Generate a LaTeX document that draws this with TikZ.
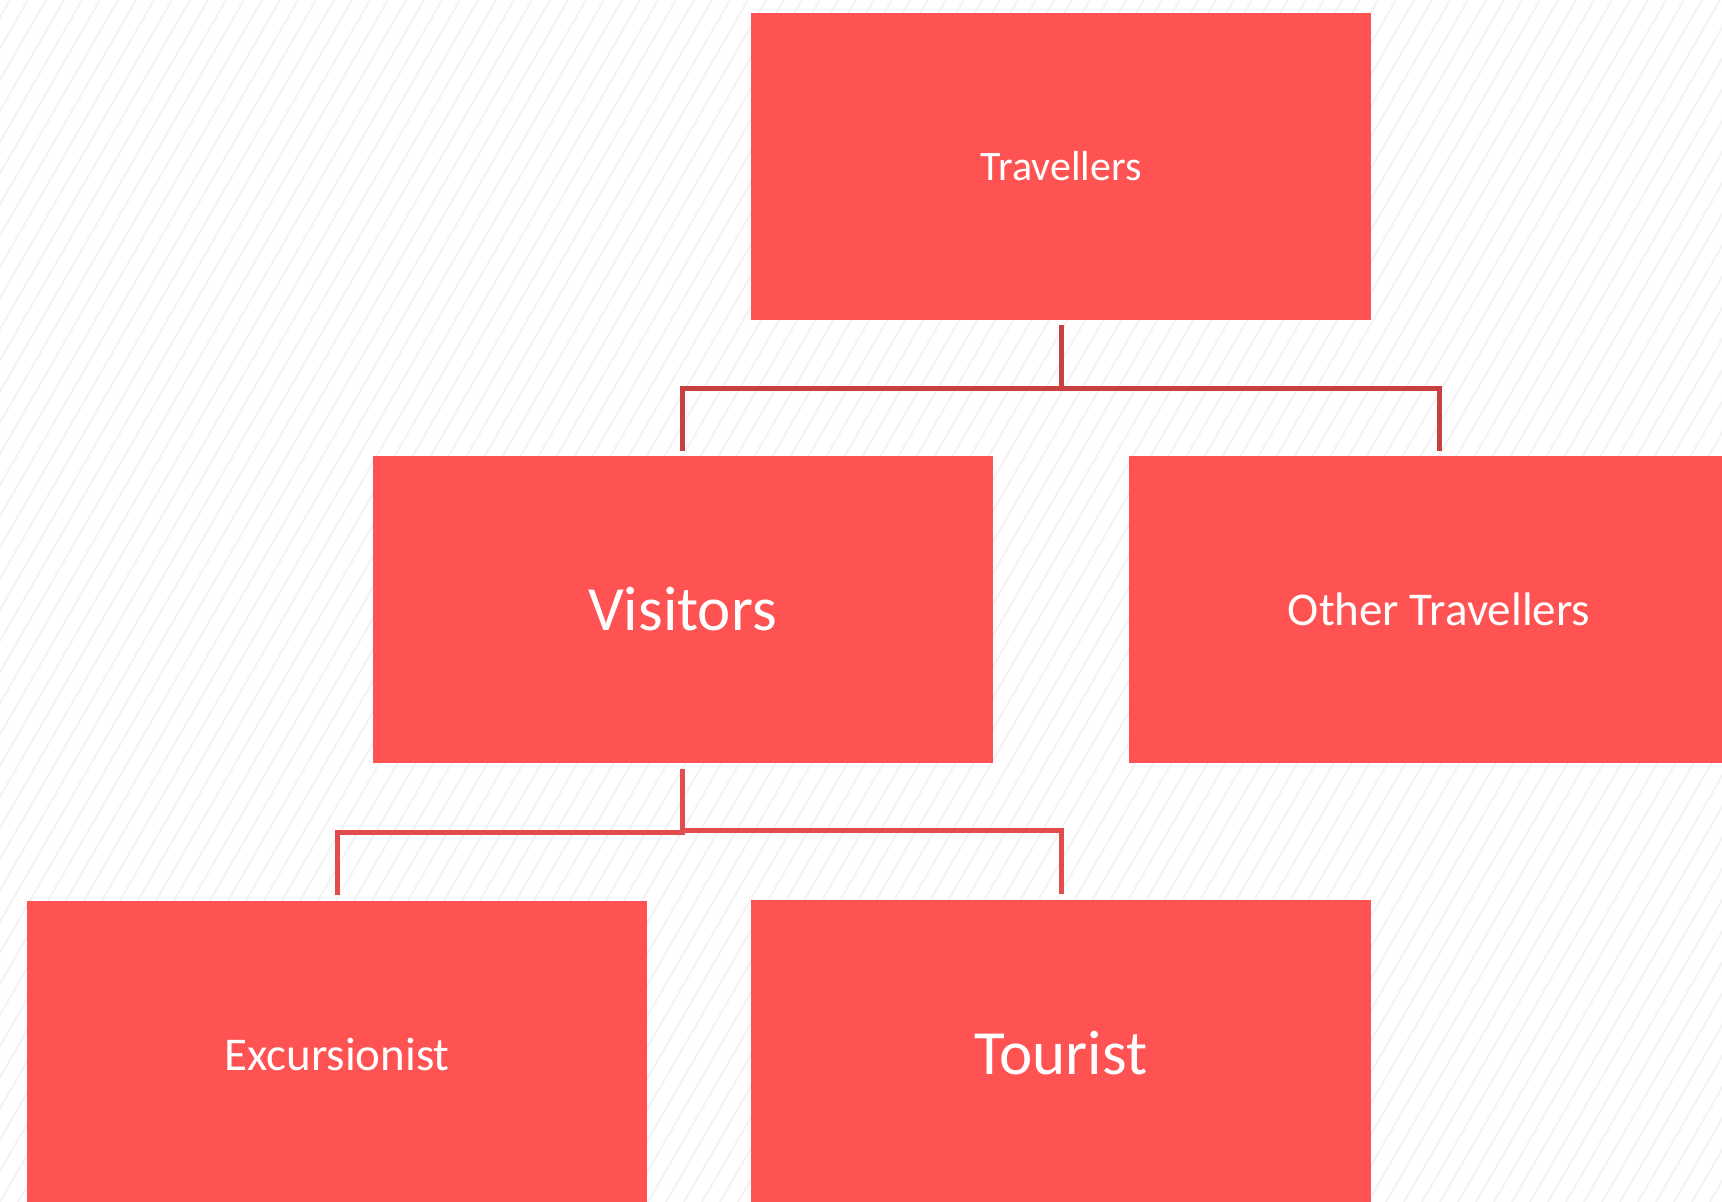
\documentclass[tikz,border=0pt]{standalone}
\usepackage{fontspec}
\setmainfont{Carlito}
\usetikzlibrary{calc}
\definecolor{boxred}{HTML}{FF5252}
\definecolor{linetop}{HTML}{C94040}
\definecolor{linebot}{HTML}{E24C4C}
\definecolor{hatch}{HTML}{F3F3F3}
\begin{document}
\begin{tikzpicture}[x=1pt,y=1pt,
  box/.style={rectangle, fill=boxred, draw=none, minimum width=620pt, minimum height=307pt, inner sep=0pt, text=white, align=center},
  conn/.style={line width=5pt, line cap=butt, line join=miter}]
\useasboundingbox (0,0) rectangle (1722,1202);
\clip (0,0) rectangle (1722,1202);
\fill[white] (0,0) rectangle (1722,1202);
\foreach \i in {-40,...,100} {
  \draw[hatch, line width=2pt] (\i*18,0) -- ++(694,1202);
}
\node[box, font=\fontsize{42}{50}\selectfont] (trav) at (1061,1035.5) {Travellers};
\node[box, font=\fontsize{63}{75}\selectfont] (vis) at (682.5,592.5) {Visitors};
\node[box, font=\fontsize{47}{56}\selectfont] (oth) at (1439,592.5) {Other Travellers};
\node[box, font=\fontsize{47}{56}\selectfont] (exc) at (337,147.5) {Excursionist};
\node[box, font=\fontsize{63}{75}\selectfont] (tour) at (1061,148.5) {Tourist};
\draw[conn, linetop] ([yshift=-5pt]trav.south) -- ++(0,-63) -| ([yshift=5pt]vis.north);
\draw[conn, linetop] ([yshift=-5pt]trav.south) -- ++(0,-63) -| ([yshift=5pt]oth.north);
\draw[conn, linebot] ([yshift=-6pt]vis.south) -- ++(0,-63) -| ([yshift=6pt]exc.north);
\draw[conn, linebot] ([yshift=-6pt]vis.south) -- ++(0,-61) -| ([yshift=6pt]tour.north);
\end{tikzpicture}
\end{document}
